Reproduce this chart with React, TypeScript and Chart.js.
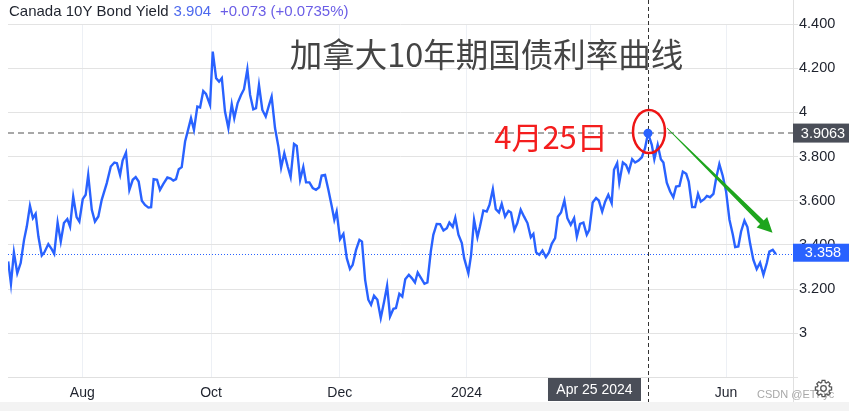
import React, { useEffect, useRef } from 'react';
import { Chart, registerables } from 'chart.js';

Chart.register(...registerables);

// days since 2023-08-01
const days = [
  -35.1, -33.8, -32.4, -30.8, -29.2, -27.6, -26.3, -24.8, -23.4, -22.1,
  -20.8, -19.2, -18.0, -16.1, -14.5, -13.3, -11.7, -10.2, -8.7, -7.1,
  -5.8, -4.3, -2.7, -1.4, 0.2, 1.6, 2.8, 4.5, 6.0, 7.6,
  9.2, 11.6, 13.5, 15.2, 16.4, 17.9, 19.1, 20.7, 22.3, 23.9,
  25.3, 26.7, 28.2, 29.7, 31.3, 32.6, 33.8, 35.4, 36.8,
  38.4, 40.3, 41.9, 43.1, 44.4, 45.7, 47.1, 48.7, 49.9, 51.5,
  52.9, 54.5, 55.8, 57.3, 58.6, 60.5, 61.8, 63.4, 64.8, 66.1,
  67.6, 69.2, 70.8, 72.0, 73.6, 75.2, 76.6, 78.2, 79.5, 81.0,
  82.3, 83.7, 85.3, 86.9, 88.5, 89.7, 91.3, 92.9, 94.2, 95.7,
  97.3, 98.7, 100.3, 101.6, 103.2, 104.7, 106.0, 107.6, 109.2, 110.7,
  112.2, 113.4, 115.0, 116.6, 118.2, 119.4, 120.5, 122.1, 123.7, 125.3,
  126.8, 128.1, 129.7, 131.3, 132.5, 134.0, 135.5, 136.8, 138.2, 139.8,
  141.4, 143.0, 144.4, 145.8, 147.4, 148.6, 150.2, 151.6, 153.0, 154.7,
  156.1, 157.6, 158.9, 160.5, 162.1, 163.5, 165.1, 166.3, 167.9, 169.5,
  171.1, 172.7, 173.9, 175.5, 176.7, 178.2, 179.8, 180.9, 182.9, 184.2,
  185.6, 187.2, 188.4, 190.0, 191.6, 192.9, 194.5, 195.9, 197.4, 198.7,
  200.3, 201.9, 203.1, 204.7, 206.1, 207.7, 209.3, 210.9, 212.5, 213.7,
  215.0, 216.5, 218.0, 219.6, 221.1, 222.4, 224.0, 225.3, 226.8, 228.4,
  229.8, 231.4, 233.0, 234.3, 235.8, 237.4, 239.0, 240.2, 241.8, 243.4,
  244.7, 246.3, 247.7, 249.2, 250.8, 251.9, 253.4, 254.4, 256.1, 257.6,
  258.9, 260.5, 261.9, 263.5, 265.1, 266.6, 268.0, 269.8, 271.0, 272.6,
  274.1, 275.3, 276.9, 278.5, 280.0, 281.3, 282.9, 284.5, 286.1, 287.3,
  288.9, 290.3, 291.7, 293.0, 294.6, 295.9, 297.4, 299.0, 300.3, 301.8,
  303.4, 305.0, 306.6, 308.2, 309.3, 310.8, 312.1, 313.7, 315.1, 316.4,
  317.9, 319.5, 321.1, 322.7, 324.3, 325.5, 327.1, 328.6,
];

const yields = [
  3.325, 3.224, 3.366, 3.272, 3.318, 3.423, 3.483, 3.577, 3.521, 3.541,
  3.438, 3.352, 3.366, 3.404, 3.381, 3.360, 3.501, 3.415, 3.499, 3.517,
  3.483, 3.619, 3.526, 3.506, 3.607, 3.627, 3.717, 3.559, 3.506, 3.529,
  3.604, 3.680, 3.755, 3.773, 3.770, 3.717, 3.782, 3.818, 3.649, 3.695,
  3.707, 3.687, 3.600, 3.581, 3.569, 3.571, 3.698, 3.695, 3.649,
  3.676, 3.705, 3.700, 3.691, 3.698, 3.743, 3.752, 3.868, 3.913, 3.974,
  3.921, 4.026, 4.022, 4.097, 4.084, 4.034, 4.275, 4.155, 4.139, 4.155,
  4.004, 3.929, 4.037, 3.974, 4.042, 4.079, 4.105, 4.195, 4.079, 4.014,
  4.019, 4.124, 4.011, 3.981, 4.034, 4.071, 3.929, 3.845, 3.750, 3.815,
  3.755, 3.707, 3.857, 3.848, 3.695, 3.753, 3.683, 3.683, 3.657, 3.649,
  3.661, 3.714, 3.717, 3.649, 3.574, 3.514, 3.551, 3.426, 3.450, 3.340,
  3.291, 3.310, 3.378, 3.423, 3.415, 3.242, 3.152, 3.129, 3.170, 3.152,
  3.069, 3.144, 3.215, 3.076, 3.111, 3.114, 3.179, 3.166, 3.245, 3.265,
  3.250, 3.230, 3.275, 3.250, 3.224, 3.230, 3.370, 3.446, 3.495, 3.494,
  3.465, 3.476, 3.501, 3.482, 3.523, 3.446, 3.408, 3.340, 3.272, 3.355,
  3.514, 3.435, 3.483, 3.556, 3.551, 3.581, 3.652, 3.562, 3.547, 3.586,
  3.528, 3.554, 3.547, 3.468, 3.499, 3.559, 3.528, 3.499, 3.435, 3.450,
  3.366, 3.355, 3.375, 3.345, 3.366, 3.405, 3.431, 3.528, 3.547, 3.601,
  3.521, 3.491, 3.521, 3.438, 3.495, 3.501, 3.446, 3.468, 3.592, 3.612,
  3.601, 3.551, 3.596, 3.627, 3.589, 3.740, 3.770, 3.682, 3.773, 3.762,
  3.732, 3.788, 3.773, 3.782, 3.797, 3.838, 3.906, 3.853, 3.788, 3.853,
  3.788, 3.773, 3.682, 3.642, 3.616, 3.664, 3.667, 3.732, 3.722, 3.687,
  3.571, 3.571, 3.631, 3.596, 3.607, 3.622, 3.616, 3.631, 3.702, 3.766,
  3.713, 3.642, 3.514, 3.446, 3.390, 3.393, 3.461, 3.510, 3.481, 3.405,
  3.333, 3.291, 3.320, 3.265, 3.318, 3.370, 3.378, 3.358,
];

const tickDays = [0, 61, 122, 182, 241, 305];
const tickLabels = ['Aug', 'Oct', 'Dec', '2024', 'Apr', 'Jun'];
const yTickValues = [2.8, 3, 3.2, 3.4, 3.6, 3.8, 4, 4.2, 4.4];
const xRange = [-35.2, 336.7];
const yRange = [2.8, 4.4];

const markerDay = 268;
const markerValue = 3.9063;
const markerDateLabel = 'Apr 25 2024';
const lastValue = 3.358;
const arrowEnd = { day: 327, value: 3.455 };

const headerName = 'Canada 10Y Bond Yield';
const headerPrice = '3.904';
const headerChange = '+0.073 (+0.0735%)';
const titleText = '加拿大10年期国债利率曲线';
const markText = '4月25日';
const watermark = 'CSDN @ETFyc';

const SANS = '"Liberation Sans", Arial, sans-serif';
const CJK = '"Noto Sans CJK SC", "Noto Sans", sans-serif';

function drawGear(ctx: CanvasRenderingContext2D, cx: number, cy: number) {
  ctx.save();
  ctx.strokeStyle = '#555';
  ctx.lineWidth = 1.3;
  const teeth = 8;
  const rO = 8.2;
  const rI = 6.2;
  ctx.beginPath();
  for (let i = 0; i < teeth; i++) {
    const a = (i * 2 * Math.PI) / teeth;
    const pts = [
      [a - 0.3, rI],
      [a - 0.17, rO],
      [a + 0.17, rO],
      [a + 0.3, rI],
    ];
    pts.forEach(([ang, r], k) => {
      const px = cx + r * Math.cos(ang);
      const py = cy + r * Math.sin(ang);
      if (i === 0 && k === 0) ctx.moveTo(px, py);
      else ctx.lineTo(px, py);
    });
  }
  ctx.closePath();
  ctx.stroke();
  ctx.beginPath();
  ctx.arc(cx, cy, 2.8, 0, Math.PI * 2);
  ctx.stroke();
  ctx.restore();
}

export default function App() {
  const ref = useRef<HTMLCanvasElement>(null);

  useEffect(() => {
    const canvas = ref.current;
    if (!canvas) return;
    const n = Math.min(days.length, yields.length);
    const points = [] as { x: number; y: number }[];
    for (let i = 0; i < n; i++) points.push({ x: days[i], y: yields[i] });

    const overlay = {
      id: 'overlay',
      beforeDatasetsDraw(chart: any) {
        const { ctx, chartArea: a, scales } = chart;
        const x = scales.x;
        const y = scales.y;
        ctx.save();
        const hy = y.getPixelForValue(markerValue);
        ctx.strokeStyle = '#8c8c8c';
        ctx.lineWidth = 1.5;
        ctx.setLineDash([6, 4]);
        ctx.beginPath();
        ctx.moveTo(a.left, hy);
        ctx.lineTo(a.right, hy);
        ctx.stroke();

        const ly = y.getPixelForValue(lastValue);
        ctx.strokeStyle = '#2962ff';
        ctx.lineWidth = 1;
        ctx.setLineDash([1, 2]);
        ctx.beginPath();
        ctx.moveTo(a.left, Math.round(ly) + 0.5);
        ctx.lineTo(a.right, Math.round(ly) + 0.5);
        ctx.stroke();

        const vx = Math.round(x.getPixelForValue(markerDay)) + 0.5;
        ctx.strokeStyle = '#333';
        ctx.setLineDash([4, 3]);
        ctx.beginPath();
        ctx.moveTo(vx, 0);
        ctx.lineTo(vx, 402);
        ctx.stroke();
        ctx.restore();
      },
      afterDraw(chart: any) {
        const { ctx, chartArea: a, scales, width } = chart;
        const x = scales.x;
        const y = scales.y;
        ctx.save();

        // right axis border
        ctx.strokeStyle = '#e0e0e0';
        ctx.lineWidth = 1;
        ctx.beginPath();
        ctx.moveTo(Math.round(a.right) + 0.5, 0);
        ctx.lineTo(Math.round(a.right) + 0.5, 402);
        ctx.stroke();

        // bottom grey band
        ctx.fillStyle = '#f3f3f3';
        ctx.fillRect(0, 402, width, 9);

        // header
        ctx.textBaseline = 'alphabetic';
        ctx.textAlign = 'left';
        ctx.font = `15px ${SANS}`;
        let hx = 9;
        ctx.fillStyle = '#1e222d';
        ctx.fillText(headerName, hx, 16);
        hx += ctx.measureText(headerName).width + 5;
        ctx.fillStyle = '#4d69ee';
        ctx.fillText(headerPrice, hx, 16);
        hx += ctx.measureText(headerPrice).width + 9;
        ctx.fillStyle = '#6a5de6';
        ctx.fillText(headerChange, hx, 16);

        // title
        ctx.font = `32.5px ${CJK}`;
        ctx.fillStyle = '#444';
        ctx.textAlign = 'center';
        ctx.textBaseline = 'middle';
        ctx.fillText(titleText, 486.5, 55);

        const mx = x.getPixelForValue(markerDay);
        const my = y.getPixelForValue(markerValue);

        // red text
        ctx.font = `31px ${CJK}`;
        ctx.fillStyle = '#f41e1e';
        ctx.fillText(markText, mx - 97, my + 4);

        // red ellipse
        ctx.strokeStyle = '#ee1515';
        ctx.lineWidth = 2.5;
        ctx.beginPath();
        ctx.ellipse(mx + 1, my - 1.5, 16, 21.5, 0, 0, Math.PI * 2);
        ctx.stroke();

        // green arrow
        const sx = mx + 19;
        const sy = my - 5;
        const tx = x.getPixelForValue(arrowEnd.day);
        const ty = y.getPixelForValue(arrowEnd.value);
        const dx = tx - sx;
        const dy = ty - sy;
        const len = Math.hypot(dx, dy);
        const ux = dx / len;
        const uy = dy / len;
        const nx = -uy;
        const ny = ux;
        const headL = 15;
        const headW = 7.5;
        const bx = tx - ux * headL;
        const by = ty - uy * headL;
        ctx.fillStyle = '#1ea51e';
        ctx.beginPath();
        ctx.moveTo(sx + nx * 0.3, sy + ny * 0.3);
        ctx.lineTo(bx + nx * 2.6, by + ny * 2.6);
        ctx.lineTo(bx + nx * headW, by + ny * headW);
        ctx.lineTo(tx, ty);
        ctx.lineTo(bx - nx * headW, by - ny * headW);
        ctx.lineTo(bx - nx * 2.6, by - ny * 2.6);
        ctx.lineTo(sx - nx * 0.3, sy - ny * 0.3);
        ctx.closePath();
        ctx.fill();

        // right value boxes
        ctx.textAlign = 'center';
        ctx.textBaseline = 'middle';
        ctx.font = `14.5px ${SANS}`;
        ctx.fillStyle = '#4a4e58';
        ctx.fillRect(a.right, my - 9.5, width - a.right, 19);
        ctx.fillStyle = '#ffffff';
        ctx.fillText(markerValue.toFixed(4), a.right + (width - a.right) / 2 + 2, my + 0.5);

        const ly = y.getPixelForValue(lastValue);
        ctx.fillStyle = '#2962ff';
        ctx.fillRect(a.right, ly - 10.5, width - a.right, 18);
        ctx.fillStyle = '#ffffff';
        ctx.fillText(lastValue.toFixed(3), a.right + (width - a.right) / 2 + 2, ly - 1.5);

        // bottom date box
        ctx.font = `14px ${SANS}`;
        ctx.fillStyle = '#4a4e58';
        ctx.fillRect(mx - 100, 378, 93, 23);
        ctx.fillStyle = '#ffffff';
        ctx.fillText(markerDateLabel, mx - 53.5, 390);

        // watermark
        ctx.font = `11px ${SANS}`;
        ctx.fillStyle = '#a8a8a8';
        ctx.textAlign = 'left';
        ctx.fillText(watermark, 757, 395);

        drawGear(ctx, 823.5, 388.5);
        ctx.restore();
      },
    };

    const chart = new Chart(canvas, {
      type: 'line',
      data: {
        datasets: [
          {
            data: points,
            borderColor: '#2962ff',
            borderWidth: 2.4,
            tension: 0,
            fill: false,
            pointRadius: (c: any) => (c.raw && c.raw.x === markerDay ? 4.5 : 0),
            pointBackgroundColor: '#2962ff',
            pointBorderWidth: 0,
          },
        ],
      },
      options: {
        animation: false,
        responsive: false,
        events: [],
        parsing: false,
        layout: { padding: { left: 8, top: 24, right: 0, bottom: 0 } },
        plugins: { legend: { display: false }, tooltip: { enabled: false } },
        scales: {
          x: {
            type: 'linear',
            min: xRange[0],
            max: xRange[1],
            afterBuildTicks: (s: any) => {
              s.ticks = tickDays.map((v) => ({ value: v }));
            },
            afterFit: (s: any) => {
              s.height = 33.5;
            },
            ticks: {
              autoSkip: false,
              maxRotation: 0,
              minRotation: 0,
              padding: 7,
              color: '#1e222d',
              font: { family: SANS, size: 14 },
              callback: (_v: any, i: number) => tickLabels[i],
            },
            grid: { color: '#edf0f5', drawTicks: false },
            border: { display: true, color: '#e0e0e0' },
          },
          y: {
            type: 'linear',
            position: 'right',
            min: yRange[0],
            max: yRange[1],
            afterBuildTicks: (s: any) => {
              s.ticks = yTickValues.map((v) => ({ value: v }));
            },
            afterFit: (s: any) => {
              s.width = 56;
            },
            ticks: {
              padding: 1,
              color: '#1e222d',
              font: { family: SANS, size: 14.5 },
              callback: (v: any) => {
                const num = Number(v);
                if (Math.abs(num - 2.8) < 1e-6) return '';
                if (Math.abs(num - Math.round(num)) < 1e-6) return String(Math.round(num));
                return num.toFixed(3);
              },
            },
            grid: { color: '#e3e3e3', tickLength: 5 },
            border: { display: false },
          },
        },
      },
      plugins: [overlay],
    } as any);

    return () => chart.destroy();
  }, []);

  return (
    <div style={{ position: 'absolute', left: 0, top: 0, width: 849, height: 411, background: '#fff' }}>
      <canvas ref={ref} width={849} height={411} style={{ display: 'block' }} />
    </div>
  );
}
